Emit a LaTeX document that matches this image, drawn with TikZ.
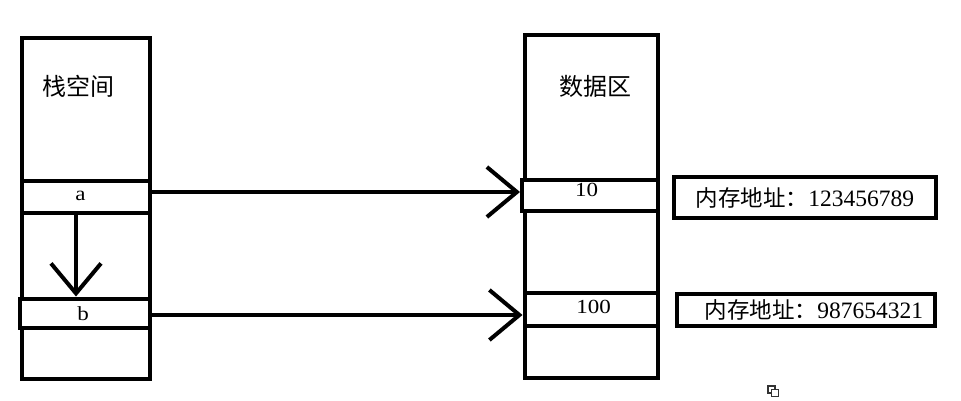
\documentclass[tikz,border=0pt]{standalone}
\usepackage{fontspec}
\setmainfont{Liberation Serif}
\newfontfamily\cjk{Noto Sans CJK SC}
\newfontfamily\cellfont[FakeStretch=1.15]{Liberation Serif}
\usetikzlibrary{arrows.meta}
\begin{document}
\begin{tikzpicture}[x=1pt,y=-1pt,
  cell/.style={draw=black,fill=white,line width=4pt,inner sep=0pt},
  celltext/.style={inner sep=0pt,anchor=base,font=\cellfont\fontsize{20}{20}\selectfont},
  addr/.style={draw=black,line width=4pt,inner sep=0pt,font=\fontsize{23.5}{23.5}\selectfont},
  conn/.style={line width=4pt,-{Straight Barb[length=30pt,width=50pt,line width=4pt]}},
  title/.style={font=\cjk\fontsize{24}{24}\selectfont,inner sep=0pt}]
\useasboundingbox (0,0) rectangle (961,401);
% stack box
\draw[line width=4pt] (22,38) rectangle (150,379);
\node[title] (stacklbl) at (78.5,86) {栈空间};
\node[cell,minimum width=128pt,minimum height=32pt] (a) at (86,196.5) {};
\node[cell,minimum width=130pt,minimum height=29pt] (b) at (85,313) {};
\node[celltext] (ta) at (80.5,200.5) {a};
\node[celltext] (tb) at (83,320) {b};
% data box
\draw[line width=4pt] (524.5,35.5) rectangle (657.5,378);
\node[title] (datalbl) at (595,86) {数据区};
\node[cell,minimum width=135.5pt,minimum height=31pt] (v10) at (589.75,195) {};
\node[cell,minimum width=133.5pt,minimum height=33pt] (v100) at (591.25,309) {};
\node[celltext] (t10) at (586.5,196) {10};
\node[celltext] (t100) at (593.5,313) {100};
% address boxes
\node[addr,minimum width=262pt,minimum height=41pt] (addr1) at (805,197.5) {{\cjk\fontsize{22.5}{22.5}\selectfont 内存地址：}123456789};
\node[addr,minimum width=258pt,minimum height=32pt] (addr2) at (806,310) {\hspace{16pt}{\cjk\fontsize{22.5}{22.5}\selectfont 内存地址：}987654321};
% connectors
\draw[conn] ([xshift=-10pt]a.south) -- ([xshift=-9pt]b.north);
\draw[conn] ([yshift=4.5pt]a.east) -- ([yshift=3pt]v10.west);
\draw[conn] ([yshift=-2pt]b.east) -- ([yshift=-6pt]v100.west);
% small icon
\draw[line width=1.2pt,black!80] (768,386) rectangle (775,393);
\draw[line width=1.2pt,black!80,fill=white] (771.5,389.5) rectangle (778.5,396.5);
\end{tikzpicture}
\end{document}
